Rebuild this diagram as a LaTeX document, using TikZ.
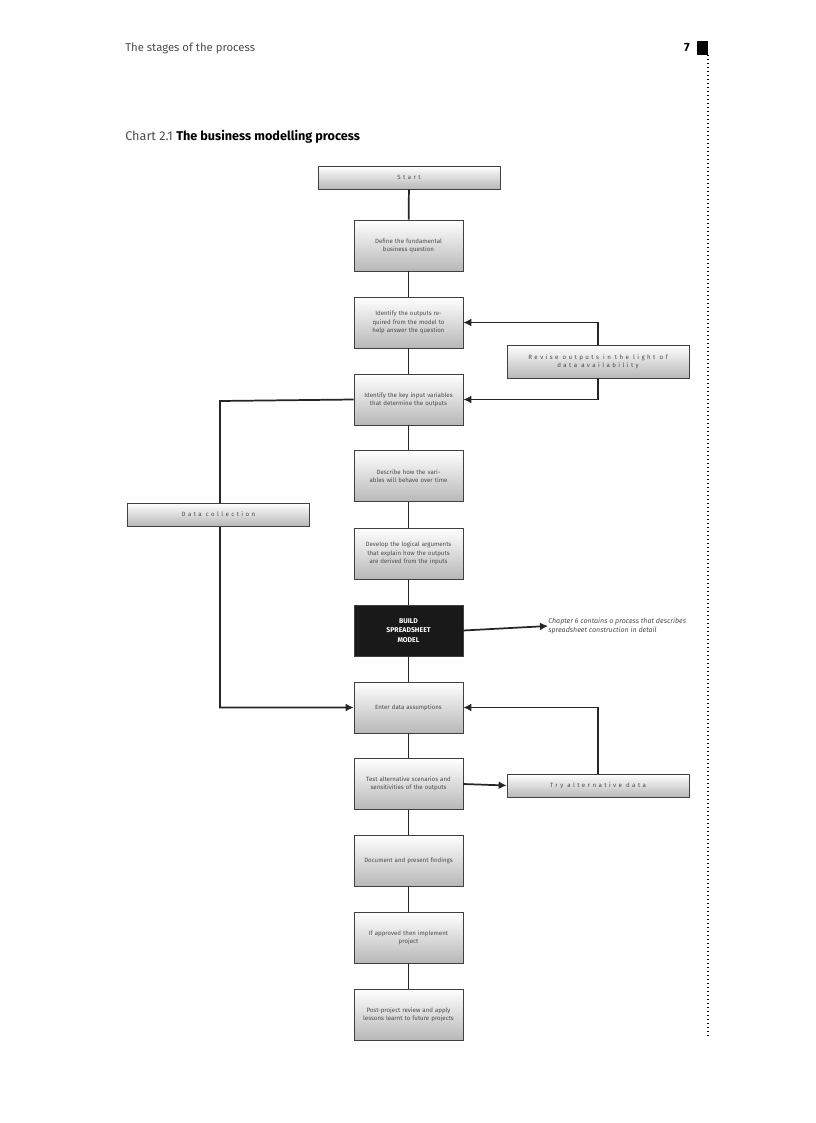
\documentclass[tikz,border=0pt]{standalone}
\usepackage{fontspec}
\setmainfont{Fira Sans}
\usetikzlibrary{arrows.meta}
\tikzset{
 box/.style={draw=black!75,line width=0.5pt,top color=white,bottom color=black!28,minimum width=109*0.75pt,minimum height=51*0.75pt,align=center,text width=104*0.75pt,font=\fontsize{4.6}{6.2}\selectfont,text=black!70,inner sep=1pt},
 wbox/.style={draw=black!75,line width=0.5pt,top color=white,bottom color=black!28,minimum width=182*0.75pt,align=center,font=\fontsize{4.6}{6.2}\selectfont\addfontfeatures{LetterSpace=40},text=black!70,inner sep=1pt},
 con/.style={line width=1.3pt,black!85},
 arr/.style={con,-{Latex[length=6pt,width=6pt]}}
}
\begin{document}
\begin{tikzpicture}[x=0.75pt,y=-0.75pt]
\useasboundingbox (0,0) rectangle (816,1123);
\node[anchor=west,font=\fontsize{8.5}{10}\selectfont,text=black!70,inner sep=0] (hdr) at (125,48) {The stages of the process};
\node[anchor=east,font=\bfseries\fontsize{9}{10}\selectfont,inner sep=0] (pg) at (690,48) {7};
\fill (697,41) rectangle (708,55);
\draw[line width=1pt,dotted] (708,55) -- (708,1038);
\node[anchor=west,font=\fontsize{9.5}{11}\selectfont,inner sep=0] (ttl) at (125,137) {\textcolor{black!70}{Chart 2.1} \textbf{The business modelling process}};

\node[wbox,minimum height=23*0.75pt] (start) at (409,177.5) {Start};
\node[box] (b1) at (408.5,245.5) {Define the fundamental\\business question};
\node[box] (b2) at (408.5,322.5) {Identify the outputs required from the model to help answer the question};
\node[box] (b3) at (408.5,399.5) {Identify the key input variables that determine the outputs};
\node[box] (b4) at (408.5,476) {Describe how the variables will behave over time};
\node[box] (b5) at (408.5,553.5) {Develop the logical arguments that explain how the outputs are derived from the inputs};
\node[box,fill=black!90,top color=black!90,bottom color=black!90,text=white,font=\bfseries\fontsize{5.2}{7}\selectfont] (b6) at (408.5,630.5) {BUILD\\SPREADSHEET\\MODEL};
\node[box] (b7) at (408.5,707.5) {Enter data assumptions};
\node[box] (b8) at (408.5,784) {Test alternative scenarios and sensitivities of the outputs};
\node[box] (b9) at (408.5,860.5) {Document and present findings};
\node[box] (b10) at (408.5,937.5) {If approved then implement\\project};
\node[box] (b11) at (408.5,1014.5) {Post-project review and apply lessons learnt to future projects};

\foreach \a/\b in {start/b1,b1/b2,b2/b3,b3/b4,b4/b5,b5/b6,b6/b7,b7/b8,b8/b9,b9/b10,b10/b11}
  \draw[con] (\a) -- (\b);

\node[wbox,minimum height=33*0.75pt] (rev) at (598,361.5) {Revise outputs in the light of\\data availability};
\draw[arr] (rev.north) |- (b2.east);
\draw[arr] (rev.south) |- (b3.east);

\coordinate (dl) at (220,401);
\draw[arr] (b3.west) -- (dl) |- (b7.west);
\node[wbox,minimum height=23*0.75pt] (dc) at (218.5,514.5) {Data collection};

\node[anchor=west,align=left,font=\itshape\fontsize{5.3}{7}\selectfont,text=black!70,inner sep=0] (note) at (548,626) {Chapter 6 contains a process that describes\\spreadsheet construction in detail};
\draw[arr] (b6.east) -- (note.west);

\node[wbox,minimum height=23*0.75pt] (try) at (598,785.5) {Try alternative data};
\draw[arr] (b8.east) -- (try.west);
\draw[arr] (try.north) |- (b7.east);
\end{tikzpicture}
\end{document}
